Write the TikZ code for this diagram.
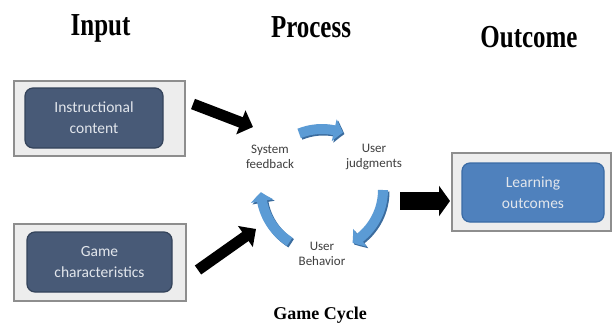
\documentclass[tikz,border=0pt]{standalone}
\usepackage{fontspec}
\setmainfont{Liberation Serif}
\newfontfamily\calibri{Carlito}
\usetikzlibrary{arrows.meta,bending}

\definecolor{framegray}{HTML}{8E8E8E}
\definecolor{framefill}{HTML}{EDEDED}
\definecolor{slatefill}{HTML}{485A77}
\definecolor{slateedge}{HTML}{34435A}
\definecolor{bluefill}{HTML}{4F81BD}
\definecolor{blueedge}{HTML}{3A6BA5}
\definecolor{boxtext}{HTML}{E2E6EC}
\definecolor{cyclight}{HTML}{5B9BD5}
\definecolor{cycdark}{HTML}{3B6C9E}
\definecolor{labelgray}{HTML}{3F3F3F}

\tikzset{
  heading/.style={anchor=base, font=\bfseries\fontsize{32}{32}\selectfont, xscale=0.78, inner sep=0pt},
  subheading/.style={anchor=base, font=\bfseries\fontsize{18}{18}\selectfont, inner sep=0pt},
  framebox/.style={draw=framegray, line width=1.2pt, fill=framefill, inner sep=0pt},
  slatebox/.style={draw=slateedge, line width=1.2pt, fill=slatefill, rounded corners=8pt,
    text=boxtext, align=center, inner sep=0pt,
    font=\calibri\fontsize{15.5}{21}\selectfont},
  bluebox/.style={slatebox, draw=blueedge, fill=bluefill},
  steplabel/.style={align=center, text=labelgray, inner sep=0pt,
    font=\calibri\fontsize{13}{14.5}\selectfont},
  blockarrow/.style={draw=black, line width=#1, line cap=butt},
  cycarrowshade/.style={draw=cycdark, line width=10pt,
    -{Triangle[width=22pt,length=9pt,bend]}},
  cycarrow/.style={draw=cyclight, line width=10pt,
    -{Triangle[width=22pt,length=9pt,bend]}},
}

\begin{document}
\begin{tikzpicture}[x=1pt,y=-1pt]
\useasboundingbox (0,0) rectangle (612,322);
\fill[white] (0,0) rectangle (612,322);

% column headings
\node[heading] (hin)  at (100.5,35) {Input};
\node[heading] (hpro) at (311,37) {Process};
\node[heading] (hout) at (529,47) {Outcome};
\node[subheading] (hcyc) at (320,319) {Game Cycle};

% input boxes
\node[framebox, minimum width=171pt, minimum height=75pt] (f1) at (99.5,118.5) {};
\node[slatebox, minimum width=138pt, minimum height=60pt] (ic) at (94,118) {Instructional\\content};
\node[framebox, minimum width=172pt, minimum height=77pt] (f2) at (100,262.5) {};
\node[slatebox, minimum width=145pt, minimum height=60pt] (gc) at (99.5,262) {Game\\characteristics};

% outcome box
\node[framebox, minimum width=159pt, minimum height=78pt] (f3) at (531.5,192) {};
\node[bluebox, minimum width=142pt, minimum height=59pt] (lo) at (533,192.5) {Learning\\outcomes};

% cycle labels
\node[steplabel] (sf) at (270,157) {System\\feedback};
\node[steplabel] (uj) at (374,157) {User\\judgments};
\node[steplabel] (ub) at (322,254) {User\\Behavior};

% cycle arrows on a circle round the labels
\coordinate (cc) at (322,190);
\foreach \a/\b in {-112/-70, 0/60, 122/178}{
  \draw[cycarrowshade] ([shift={(\a:61)}]cc) ++(1.5,1.5) arc[start angle=\a, end angle=\b, radius=61];
  \draw[cycarrow] ([shift={(\a:61)}]cc) arc[start angle=\a, end angle=\b, radius=61];
}

% black arrows into and out of the cycle
\coordinate (a1s) at (193,104);
\coordinate (a1e) at (253,127);
\coordinate (a2s) at (198,270);
\coordinate (a2e) at (256,229);
\coordinate (a3s) at (400,201);
\coordinate (a3e) at (450,201);
\draw[blockarrow=11pt, -{Triangle[width=25pt,length=13pt]}] (a1s) -- (a1e);
\draw[blockarrow=11pt, -{Triangle[width=25pt,length=13pt]}] (a2s) -- (a2e);
\draw[blockarrow=18pt, -{Triangle[width=30pt,length=11pt]}] (a3s) -- (a3e);
\end{tikzpicture}
\end{document}
